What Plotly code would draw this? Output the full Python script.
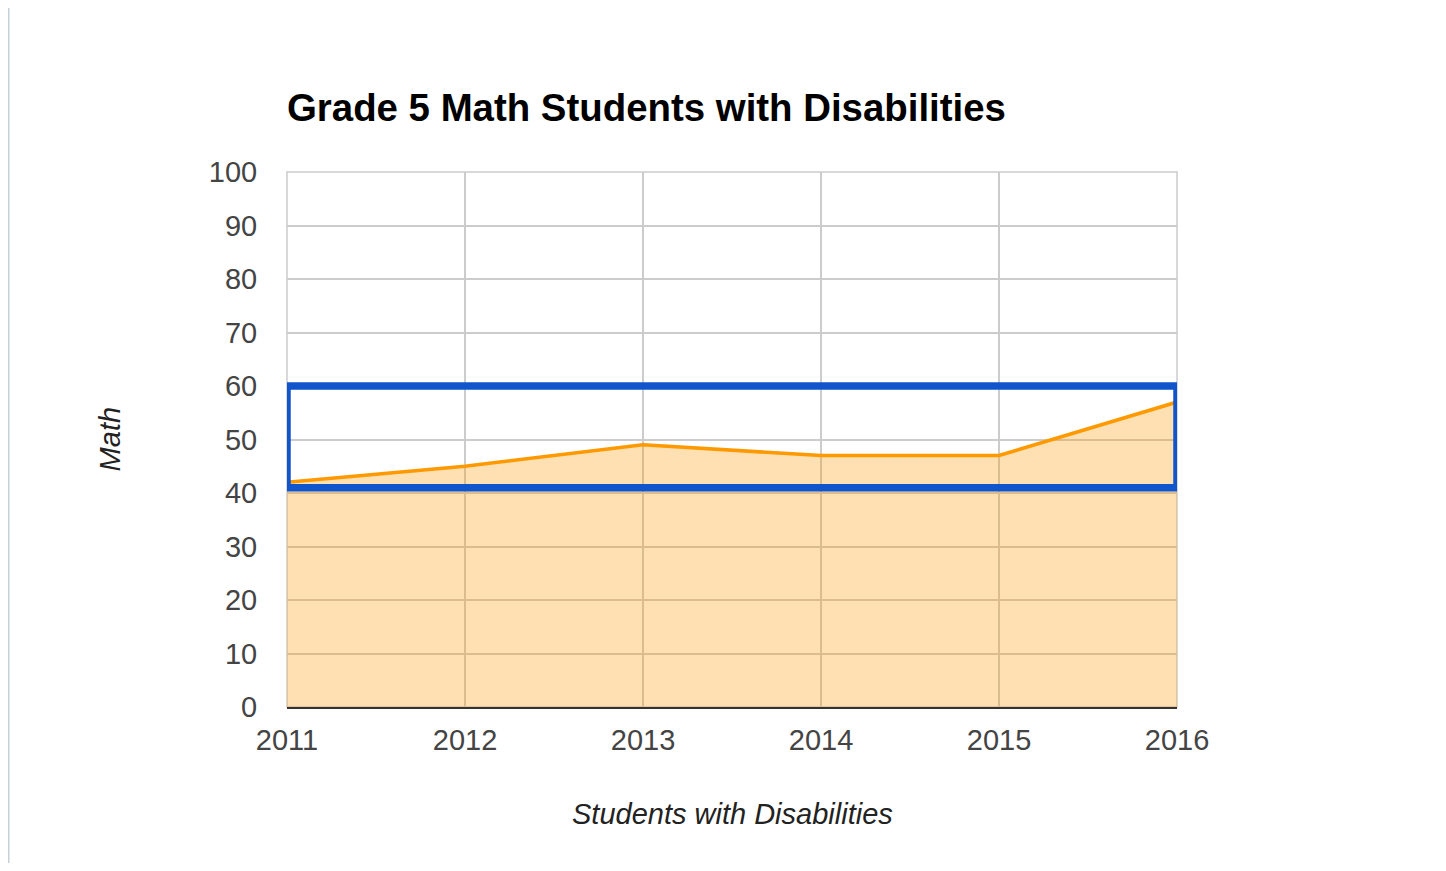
import plotly.graph_objects as go

# Data
years = [2011, 2012, 2013, 2014, 2015, 2016]
math_scores = [42, 45, 49, 47, 47, 57]
y_ticks = [0, 10, 20, 30, 40, 50, 60, 70, 80, 90, 100]
highlight_low = 41
highlight_high = 60

fig = go.Figure()

fig.add_trace(go.Scatter(
    x=years, y=math_scores,
    mode='lines',
    fill='tozeroy',
    fillcolor='rgba(255,153,0,0.3)',
    line=dict(color='#ff9900', width=3.5),
    showlegend=False,
    hoverinfo='x+y',
))

font_name = 'Liberation Sans, Arial, sans-serif'
axis_font = dict(family=font_name, size=29, color='#444444')

fig.update_xaxes(
    range=[years[0], years[-1]],
    tickvals=years,
    ticktext=[str(y) for y in years],
    tickfont=axis_font,
    showgrid=True, gridcolor='#cccccc', gridwidth=1.5,
    showline=True, linecolor='#333333', linewidth=2,
    zeroline=False,
    ticks='outside', ticklen=6, tickcolor='rgba(0,0,0,0)',
)
fig.update_yaxes(
    range=[0, 100],
    tickvals=y_ticks,
    tickfont=axis_font,
    showgrid=True, gridcolor='#cccccc', gridwidth=1.5,
    zeroline=False,
    ticks='outside', ticklen=23, tickcolor='rgba(0,0,0,0)',
)

# light frame round the plot area
fig.add_shape(type='rect', xref='paper', yref='paper',
              x0=0, x1=1, y0=0, y1=1,
              line=dict(color='#cccccc', width=1.5), layer='below')

# highlight box
fig.add_shape(
    type='rect', xref='x', yref='y',
    x0=years[0], x1=years[-1], y0=highlight_low, y1=highlight_high,
    line=dict(color='#1155cc', width=7.5),
    layer='above',
)

# page frame strip (left)
frame = '#c5d1d8'
fig.add_shape(type='rect', xref='paper', yref='paper',
              x0=-0.33, x1=-0.3118, y0=-0.33, y1=1.33,
              line_width=0, fillcolor=frame, layer='above')

# axis titles
title_font = dict(family=font_name, size=29, color='#222222', style='italic')
fig.add_annotation(
    text='Students with Disabilities', xref='paper', yref='paper',
    x=0.5, y=-0.2, xanchor='center', yanchor='middle', showarrow=False,
    font=title_font,
)
fig.add_annotation(
    text='Math', xref='paper', yref='paper',
    x=-0.199, y=0.5, xanchor='center', yanchor='middle', showarrow=False, textangle=-90,
    font=title_font,
)

fig.update_layout(
    width=1430, height=855,
    margin=dict(l=279, r=261, t=164, b=156),
    paper_bgcolor='white',
    plot_bgcolor='white',
    title=dict(
        text='<b>Grade 5 Math Students with Disabilities</b>',
        x=279 / 1430, xanchor='left', xref='container',
        y=1 - 100 / 855, yanchor='middle', yref='container',
        font=dict(family=font_name, size=38.4, color='#000000'),
    ),
    showlegend=False,
)

fig.write_html('out.html')
